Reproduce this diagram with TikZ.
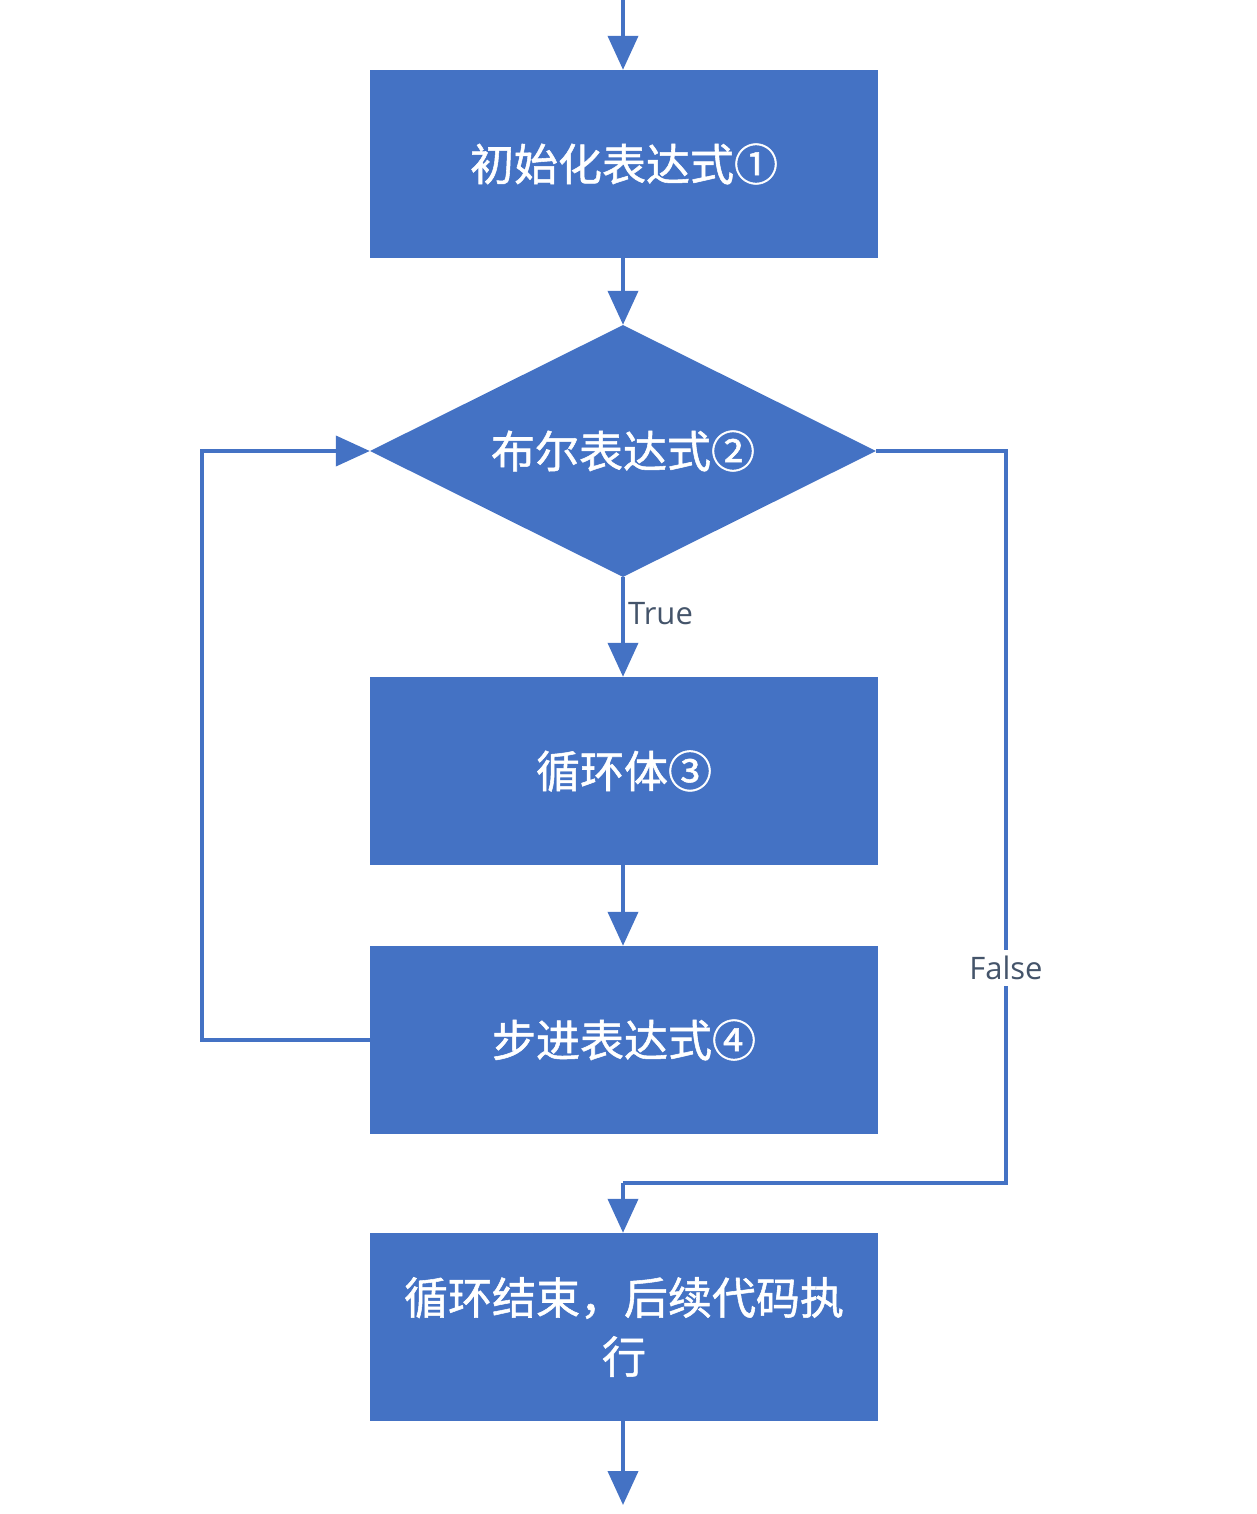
\documentclass[tikz,border=0pt]{standalone}
\usepackage{fontspec}
\setmainfont{Noto Sans CJK SC}[FakeBold=1.2]
\newfontfamily\labfont{Open Sans}
\usetikzlibrary{arrows.meta,shapes.geometric}
\definecolor{boxblue}{HTML}{4472C4}
\definecolor{labgrey}{HTML}{44546A}
\tikzset{
  procbox/.style={draw=none, fill=boxblue, minimum width=508pt, minimum height=188pt, inner sep=0pt,
    text=white, font=\fontsize{44}{59}\selectfont, align=center},
  decbox/.style={diamond, aspect=2, draw=none, fill=boxblue, minimum width=506pt, minimum height=252pt, inner sep=0pt,
    text=white, font=\fontsize{44}{59}\selectfont},
  flow/.style={draw=boxblue, line width=4pt, -{Triangle[width=30pt,length=34pt]}},
  plain/.style={draw=boxblue, line width=4pt},
  lab/.style={text=labgrey, font=\labfont\fontsize{31}{36}\selectfont, inner sep=2pt}
}
\begin{document}
\begin{tikzpicture}[x=1pt,y=-1pt]
\useasboundingbox (0,0) rectangle (1256,1514);
\coordinate (top) at (623,0);
\node[procbox] (init) at (624,164) {初始化表达式①};
\node[decbox] (cond) at (623,451) {布尔表达式②};
\node[procbox] (body) at (624,771) {循环体③};
\node[procbox] (step4) at (624,1040) {步进表达式④};
\node[procbox] (endb) at (624,1327) {循环结束，后续代码执\\行};
\coordinate (bottom) at (623,1505);
\coordinate (lb1) at (202,1040);
\coordinate (lb2) at (202,451);
\coordinate (fa1) at (1006,451);
\coordinate (fa2) at (1006,1183);
\coordinate (fa3) at (623,1183);

\draw[flow] (top) -- (init.north -| top);
\draw[flow] (init.south -| top) -- (cond.north);
\draw[flow] (cond.south) -- (body.north -| cond.south);
\node[lab, anchor=west] (truel) at (626,614) {True};
\draw[flow] (body.south -| top) -- (step4.north -| top);
\draw[flow] (step4.west) -- (lb1) -- (lb2) -- (cond.west);
\draw[plain] (cond.east) -- (fa1) -- (fa2) -- (fa3);
\draw[flow] (fa3) -- (endb.north -| fa3);
\node[lab, fill=white, inner ysep=6pt] (falsel) at (1006,968) {False};
\draw[flow] (endb.south -| top) -- (bottom);
\end{tikzpicture}
\end{document}
